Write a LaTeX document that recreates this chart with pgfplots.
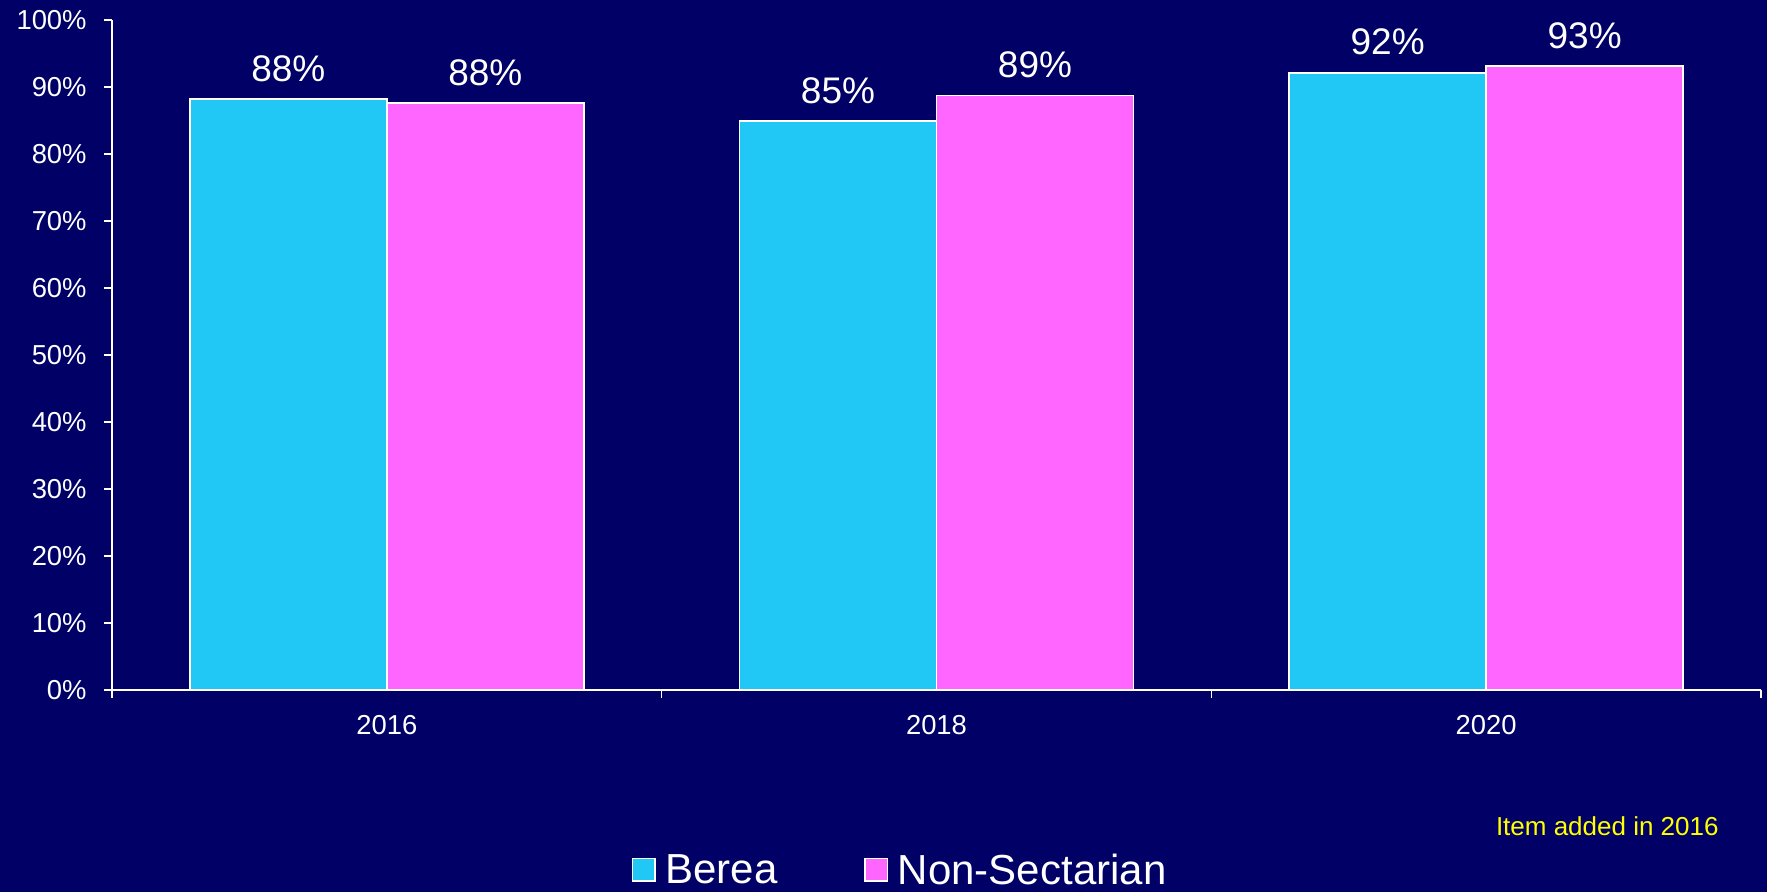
\documentclass[border=0pt]{standalone}
\usepackage{fontspec}
\setmainfont{Liberation Sans}
\usepackage{pgfplots}
\pgfplotsset{compat=1.18}
\definecolor{bg}{RGB}{0,0,102}
\definecolor{berea}{RGB}{33,200,246}
\definecolor{nons}{RGB}{255,102,255}
\definecolor{notec}{RGB}{255,255,0}
\begin{document}
\begin{tikzpicture}
\fill[bg] (0,0) rectangle (883.5pt,446pt);
\begin{axis}[
  at={(56pt,101pt)}, anchor=south west,
  scale only axis, width=824.5pt, height=335pt,
  xmin=0, xmax=3, ymin=0, ymax=100,
  clip=false,
  axis x line*=bottom, axis y line*=left,
  axis line style={white, line width=0.8pt, -},
  xtick={0.5,1.5,2.5}, xticklabels={2016,2018,2020},
  minor xtick={0,1,2,3},
  ytick={0,10,...,100},
  yticklabels={0\%,10\%,20\%,30\%,40\%,50\%,60\%,70\%,80\%,90\%,100\%},
  tick align=outside, major tick length=4pt, minor tick length=4pt,
  tick style={white, line width=0.8pt},
  major x tick style={draw=none},
  ticklabel style={white, font=\fontsize{13.7}{16}\selectfont},
  yticklabel style={inner sep=0pt, anchor=east, xshift=-8.5pt},
  xticklabel style={inner sep=0pt, anchor=north, yshift=-8.6pt},
  ybar=0pt, bar width=98.5pt,
  /pgf/number format/assume math mode=true,
  nodes near coords={\pgfmathprintnumber[fixed,precision=0]{\pgfplotspointmeta}\%},
  every node near coord/.append style={white, font=\fontsize{18.5}{20}\selectfont, anchor=base, inner sep=0pt, yshift=9pt},
  legend columns=2,
  legend image code/.code={\draw[#1, draw=white, line width=0.75pt] (0pt,-5.3pt) rectangle (11.3pt,5.95pt);},
  legend style={at={(0.4802,-0.301)}, anchor=south, draw=none, fill=none, text=white,
    font=\fontsize{21}{24}\selectfont,
    nodes={inner xsep=4.75pt, inner ysep=0pt},
    /tikz/every even column/.append style={column sep=38.7pt}},
]
\addplot[fill=berea, draw=white, line width=0.75pt] coordinates {(0.5,88.2) (1.5,84.9) (2.5,92.1)};
\addplot[fill=nons, draw=white, line width=0.75pt] coordinates {(0.5,87.6) (1.5,88.7) (2.5,93.1)};
\legend{Berea, Non-Sectarian}
\end{axis}
\node[anchor=east, text=notec, font=\fontsize{13}{15}\selectfont, inner sep=0pt] at (859.5pt,33pt) {Item added in 2016};
\pgfresetboundingbox
\path[use as bounding box] (0,0) rectangle (883.5pt,446pt);
\end{tikzpicture}
\end{document}
